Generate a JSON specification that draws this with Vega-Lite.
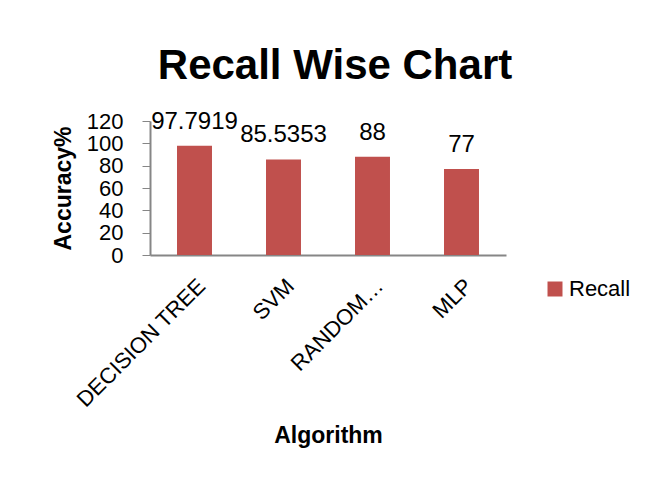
{
  "$schema": "https://vega.github.io/schema/vega-lite/v6.json",
  "width": 356,
  "height": 134,
  "autosize": {"type": "none"},
  "padding": {"left": 150, "top": 121, "right": 141, "bottom": 223},
  "background": "white",
  "config": {
    "view": {"stroke": null},
    "font": "Liberation Sans"
  },
  "title": {
    "text": "Recall Wise Chart",
    "font": "Liberation Sans",
    "fontSize": 42,
    "fontWeight": "bold",
    "color": "black",
    "anchor": "middle",
    "baseline": "alphabetic",
    "offset": -11,
    "dx": 7
  },
  "data": {
    "values": [
      {"Algorithm": "DECISION TREE", "Recall": 97.7919},
      {"Algorithm": "SVM", "Recall": 85.5353},
      {"Algorithm": "RANDOM FOREST", "Recall": 88},
      {"Algorithm": "MLP", "Recall": 77}
    ]
  },
  "encoding": {
    "x": {
      "field": "Algorithm",
      "type": "nominal",
      "sort": null,
      "scale": {"paddingInner": 0.607, "paddingOuter": 0.3035},
      "axis": {
        "title": "Algorithm",
        "titleFont": "Liberation Sans",
        "titleFontSize": 23,
        "titleFontWeight": "bold",
        "titleColor": "black",
        "titlePadding": 14,
        "labelAngle": -45,
        "labelAlign": "right",
        "labelBaseline": "top",
        "labelFontSize": 22,
        "labelColor": "black",
        "labelPadding": 20,
        "labelLimit": 300,
        "labelOverlap": false,
        "labelExpr": "datum.label == 'RANDOM FOREST' ? 'RANDOM…' : datum.label",
        "ticks": false,
        "domainColor": "#868686",
        "domainWidth": 2
      }
    },
    "y": {
      "field": "Recall",
      "type": "quantitative",
      "scale": {"domain": [0, 120]},
      "axis": {
        "title": "Accuracy%",
        "titleFont": "Liberation Sans",
        "titleFontSize": 23,
        "titleFontWeight": "bold",
        "titleColor": "black",
        "titlePadding": 11,
        "values": [0, 20, 40, 60, 80, 100, 120],
        "labelOverlap": false,
        "labelFontSize": 22,
        "labelColor": "black",
        "labelPadding": 19,
        "tickSize": 8,
        "tickColor": "#868686",
        "domainColor": "#868686",
        "domainWidth": 2,
        "grid": false
      }
    }
  },
  "layer": [
    {
      "mark": {"type": "bar"},
      "encoding": {
        "color": {
          "datum": "Recall",
          "type": "nominal",
          "scale": {"range": ["#C0504D"]},
          "legend": {
            "title": null,
            "orient": "none",
            "legendX": 394,
            "legendY": 157,
            "symbolType": "square",
            "symbolSize": 225,
            "symbolStrokeWidth": 0,
            "labelFontSize": 22,
            "labelColor": "black",
            "labelOffset": 3
          }
        }
      }
    },
    {
      "mark": {"type": "text", "baseline": "alphabetic", "dy": -17, "fontSize": 24, "color": "black"},
      "encoding": {"text": {"field": "Recall", "type": "nominal"}}
    }
  ]
}
